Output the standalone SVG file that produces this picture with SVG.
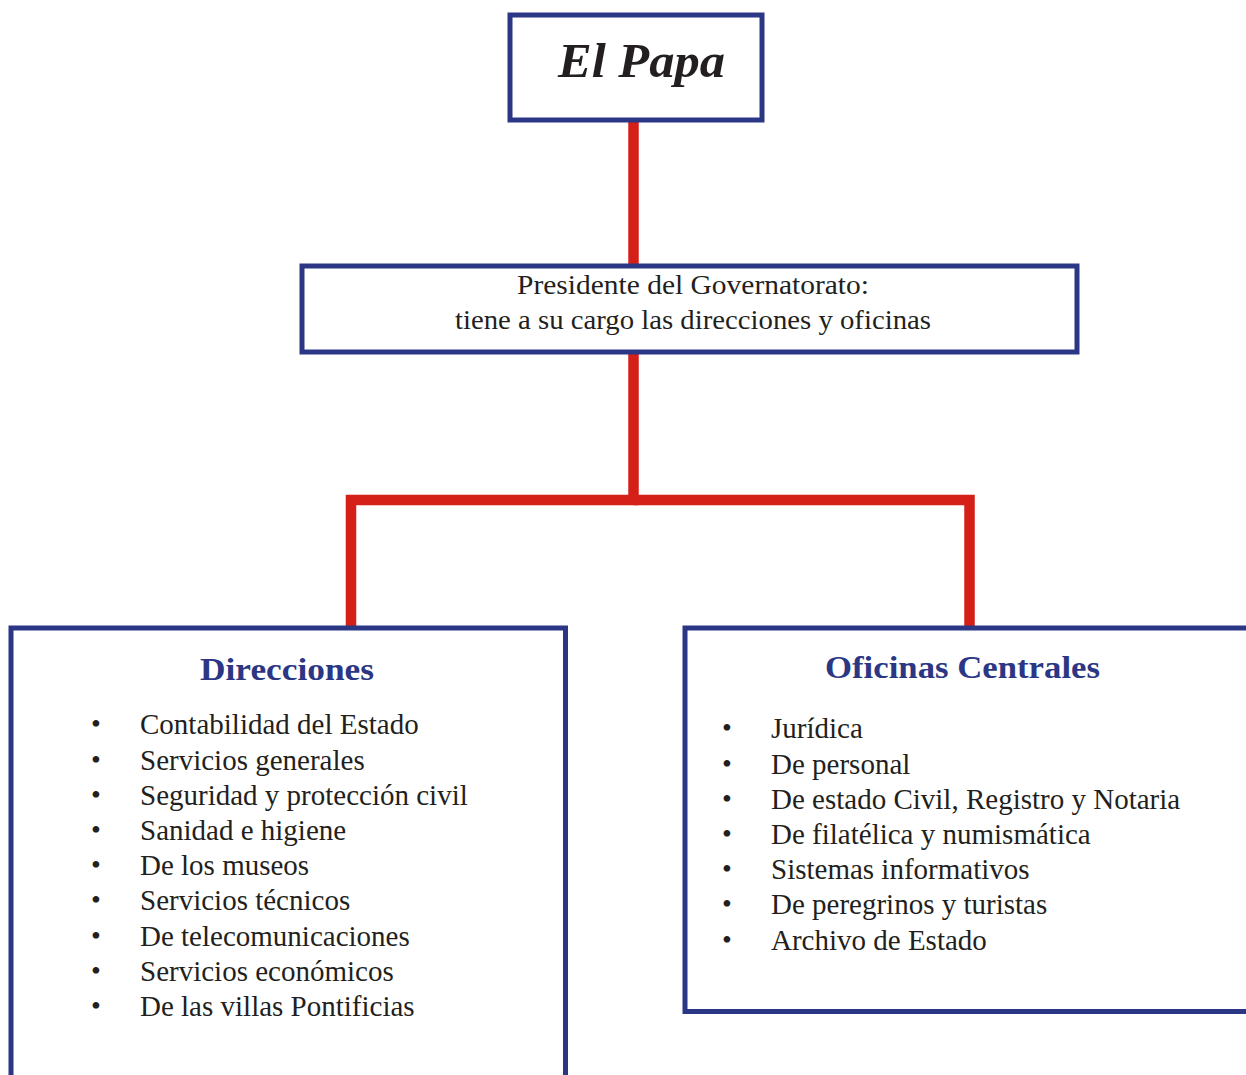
<svg xmlns="http://www.w3.org/2000/svg" width="1246" height="1075" viewBox="0 0 1246 1075">
<style>
.box{fill:#fff;stroke:#2b3784;stroke-width:5}
.conn{fill:none;stroke:#d42019;stroke-width:10.5;stroke-linejoin:miter}
.t{font-family:"Liberation Serif","Times New Roman",serif;fill:#231f20}
.item{font-size:29px}
.head{font-size:32px;font-weight:bold;fill:#2b3784}
.bul{font-size:28px}
</style>
<rect width="1246" height="1075" fill="#fff"/>
<g id="connectors">
<line class="conn" x1="633.5" y1="122" x2="633.5" y2="264"/>
<polyline class="conn" points="633.5,354 633.5,500 351,500 351,627"/>
<polyline class="conn" points="633.5,500 969.5,500 969.5,627"/>
</g>
<g id="el-papa">
<rect class="box" x="510" y="15" width="252" height="105"/>
<text class="t" x="558" y="77" font-size="48" font-weight="bold" font-style="italic" textLength="167" lengthAdjust="spacingAndGlyphs">El Papa</text>
</g>
<g id="presidente">
<rect class="box" x="302" y="266" width="775" height="86"/>
<text class="t" x="517" y="294" font-size="27" textLength="352" lengthAdjust="spacingAndGlyphs">Presidente del Governatorato:</text>
<text class="t" x="455" y="329" font-size="27" textLength="476" lengthAdjust="spacingAndGlyphs">tiene a su cargo las direcciones y oficinas</text>
</g>
<g id="direcciones">
<rect class="box" x="11" y="628" width="554.5" height="460"/>
<text class="t head" x="200" y="680" textLength="174" lengthAdjust="spacingAndGlyphs">Direcciones</text>
<g class="t bul">
<text x="91" y="733">•</text><text x="91" y="769">•</text><text x="91" y="804">•</text><text x="91" y="839">•</text><text x="91" y="874">•</text><text x="91" y="909">•</text><text x="91" y="945">•</text><text x="91" y="980">•</text><text x="91" y="1015">•</text>
</g>
<g class="t item">
<text x="140" y="734">Contabilidad del Estado</text>
<text x="140" y="770">Servicios generales</text>
<text x="140" y="805">Seguridad y protección civil</text>
<text x="140" y="840">Sanidad e higiene</text>
<text x="140" y="875">De los museos</text>
<text x="140" y="910">Servicios técnicos</text>
<text x="140" y="946">De telecomunicaciones</text>
<text x="140" y="981">Servicios económicos</text>
<text x="140" y="1016">De las villas Pontificias</text>
</g>
</g>
<g id="oficinas">
<rect class="box" x="685" y="628" width="580" height="383.5"/>
<text class="t head" x="825" y="678" textLength="275" lengthAdjust="spacingAndGlyphs">Oficinas Centrales</text>
<g class="t bul">
<text x="722" y="737">•</text><text x="722" y="773">•</text><text x="722" y="808">•</text><text x="722" y="843">•</text><text x="722" y="878">•</text><text x="722" y="913">•</text><text x="722" y="949">•</text>
</g>
<g class="t item">
<text x="771" y="738">Jurídica</text>
<text x="771" y="774">De personal</text>
<text x="771" y="809">De estado Civil, Registro y Notaria</text>
<text x="771" y="844">De filatélica y numismática</text>
<text x="771" y="879">Sistemas informativos</text>
<text x="771" y="914">De peregrinos y turistas</text>
<text x="771" y="950">Archivo de Estado</text>
</g>
</g>
</svg>
